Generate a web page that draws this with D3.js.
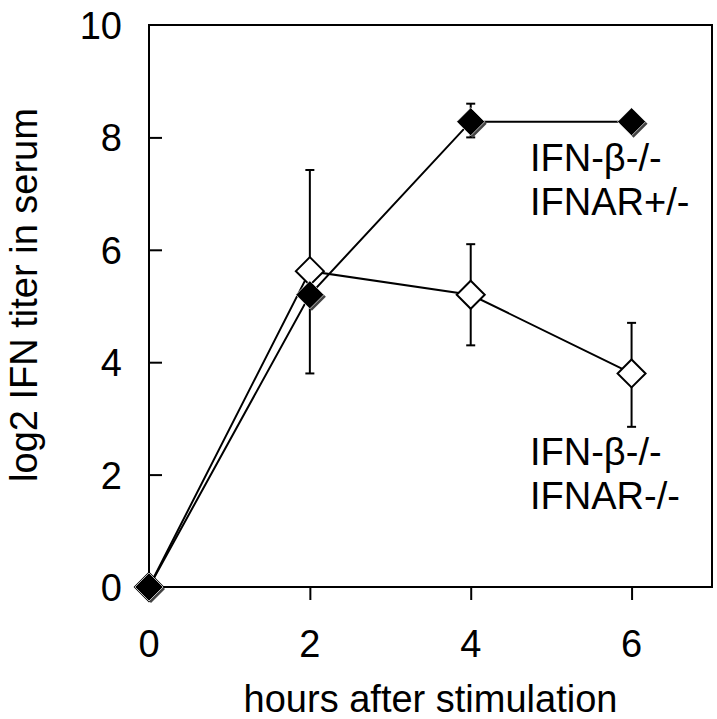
<!DOCTYPE html>
<html>
<head>
<meta charset="utf-8">
<script src="https://cdn.jsdelivr.net/npm/d3@7"></script>
<style>
  html, body { margin: 0; padding: 0; background: #fff; }
  svg { display: block; font-family: "Liberation Sans", Arial, Helvetica, sans-serif; }
</style>
</head>
<body>
<svg id="chart" width="717" height="719"></svg>
<script>
// hours after stimulation
const hours = [0, 2, 4, 6];
// IFN-beta-/- IFNAR+/- (filled diamonds)
const hetMean = [0, 5.2, 8.28, 8.28];
const hetLow = [0, 5.2, 8.0, 8.28];
const hetHigh = [0, 5.2, 8.6, 8.28];
// IFN-beta-/- IFNAR-/- (open diamonds)
const koMean = [0, 5.62, 5.2, 3.8];
const koLow = [0, 3.8, 4.3, 2.85];
const koHigh = [0, 7.42, 6.1, 4.7];
const xTicks = [0, 2, 4, 6];
const yTicks = [0, 2, 4, 6, 8, 10];

const svg = d3.select("#chart");
const plotL = 149, plotR = 712, plotT = 25, plotB = 587;
const x = d3.scaleLinear().domain([0, 7]).range([plotL, plotR]);
const y = d3.scaleLinear().domain([0, 10]).range([plotB, plotT]);

// frame
svg.append("rect").attr("x", plotL).attr("y", plotT)
  .attr("width", plotR - plotL).attr("height", plotB - plotT)
  .attr("fill", "none").attr("stroke", "#000").attr("stroke-width", 2);

// y axis: ticks inward
const yAxis = svg.append("g").attr("transform", `translate(${plotL},0)`)
  .call(d3.axisRight(y).tickValues(yTicks).tickSize(13).tickFormat(""));
yAxis.select(".domain").remove();
yAxis.selectAll("line").attr("stroke-width", 2).filter((d) => d === 0 || d === 10).remove();

svg.append("g").selectAll("text").data(yTicks).enter().append("text")
  .attr("x", 122).attr("y", (d) => y(d) + 14)
  .attr("text-anchor", "end").attr("font-size", 38).text((d) => d);

// x axis: ticks outward
const xAxis = svg.append("g").attr("transform", `translate(0,${plotB})`)
  .call(d3.axisBottom(x).tickValues(xTicks).tickSize(13).tickFormat(""));
xAxis.select(".domain").remove();
xAxis.selectAll("line").attr("stroke-width", 2).filter((d) => d === 0).remove();

svg.append("g").selectAll("text").data(xTicks).enter().append("text")
  .attr("x", (d) => x(d)).attr("y", 657)
  .attr("text-anchor", "middle").attr("font-size", 38).text((d) => d);

svg.append("text").attr("x", (plotL + plotR) / 2).attr("y", 712)
  .attr("text-anchor", "middle").attr("font-size", 38).text("hours after stimulation");

svg.append("text").attr("transform", "translate(37,295) rotate(-90)")
  .attr("text-anchor", "middle").attr("font-size", 38).text("log2 IFN titer in serum");

const het = hours.map((h, i) => ({ h, m: hetMean[i], lo: hetLow[i], hi: hetHigh[i] }));
const ko = hours.map((h, i) => ({ h, m: koMean[i], lo: koLow[i], hi: koHigh[i] }));

const line = d3.line().x((d) => x(d.h)).y((d) => y(d.m));

function errorBars(data) {
  const g = svg.append("g").attr("stroke", "#000").attr("stroke-width", 2);
  data.filter((d) => d.hi > d.lo).forEach((d) => {
    g.append("line").attr("x1", x(d.h)).attr("x2", x(d.h)).attr("y1", y(d.lo)).attr("y2", y(d.hi));
    [d.lo, d.hi].forEach((v) => {
      g.append("line").attr("x1", x(d.h) - 4.5).attr("x2", x(d.h) + 4.5).attr("y1", y(v)).attr("y2", y(v));
    });
  });
}

errorBars(ko);
errorBars(het);

svg.append("path").datum(ko).attr("d", line).attr("fill", "none").attr("stroke", "#000").attr("stroke-width", 2);
svg.append("path").datum(het).attr("d", line).attr("fill", "none").attr("stroke", "#000").attr("stroke-width", 2);

const diamond = (r) => `M0,${-r}L${r},0L0,${r}L${-r},0Z`;

svg.append("g").selectAll("path").data(ko).enter().append("path")
  .attr("transform", (d) => `translate(${x(d.h)},${y(d.m)})`)
  .attr("d", diamond(14)).attr("fill", "#fff").attr("stroke", "#000").attr("stroke-width", 2);

const hetG = svg.append("g").selectAll("g").data(het).enter().append("g")
  .attr("transform", (d) => `translate(${x(d.h)},${y(d.m)})`);
hetG.append("path").attr("d", diamond(14)).attr("transform", "translate(2,2)").attr("fill", "#444");
hetG.append("path").attr("d", diamond(14)).attr("fill", "#000").attr("stroke", "#fff").attr("stroke-width", 0.7);

// series labels
const labels = [
  { lines: ["IFN-β-/-", "IFNAR+/-"], x: 530, y: 171 },
  { lines: ["IFN-β-/-", "IFNAR-/-"], x: 530, y: 465 }
];
labels.forEach((l) => {
  const t = svg.append("text").attr("x", l.x).attr("y", l.y).attr("font-size", 38);
  l.lines.forEach((s, i) => t.append("tspan").attr("x", l.x).attr("dy", i ? 44 : 0).text(s));
});
</script>
</body>
</html>
